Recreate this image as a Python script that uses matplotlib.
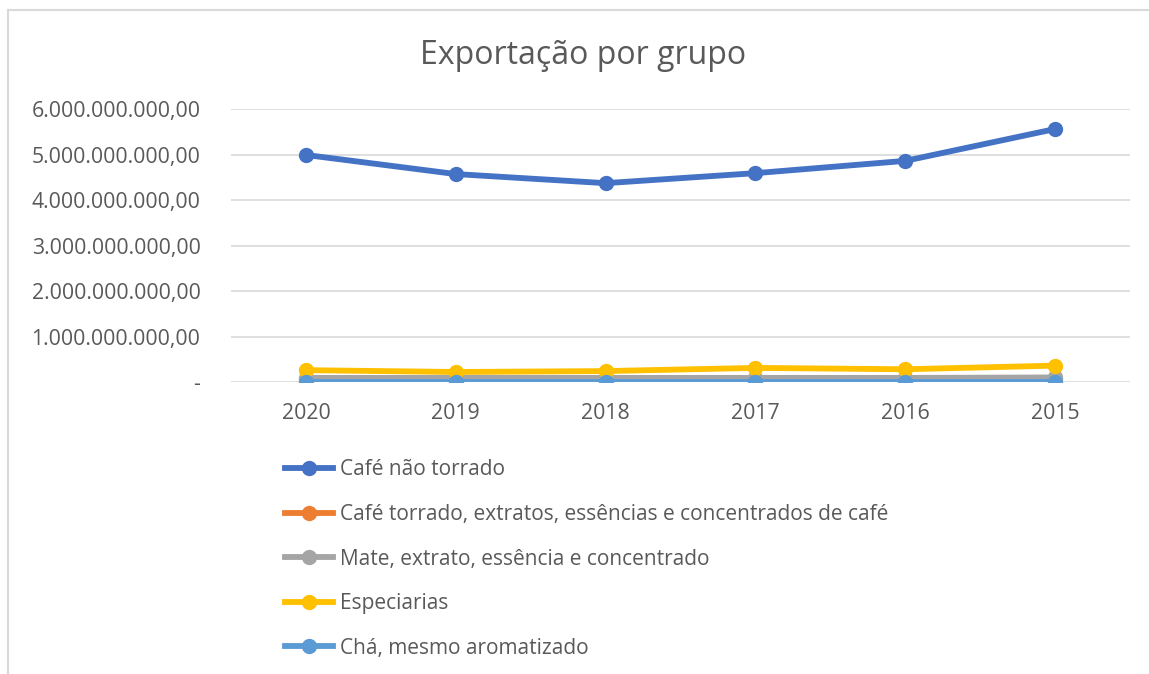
import matplotlib
matplotlib.use("Agg")
import matplotlib.pyplot as plt
from matplotlib.ticker import FuncFormatter
from matplotlib.lines import Line2D

years = ["2020", "2019", "2018", "2017", "2016", "2015"]
cafe_nao_torrado = [4.99e9, 4.57e9, 4.37e9, 4.59e9, 4.86e9, 5.56e9]
cafe_torrado = [0.05e9, 0.05e9, 0.05e9, 0.05e9, 0.05e9, 0.06e9]
mate = [0.09e9, 0.09e9, 0.09e9, 0.09e9, 0.09e9, 0.10e9]
especiarias = [0.26e9, 0.22e9, 0.24e9, 0.31e9, 0.28e9, 0.36e9]
cha = [0.002e9, 0.002e9, 0.002e9, 0.002e9, 0.002e9, 0.002e9]

series_names = [
    "Café não torrado",
    "Café torrado, extratos, essências e concentrados de café",
    "Mate, extrato, essência e concentrado",
    "Especiarias",
    "Chá, mesmo aromatizado",
]
series_values = [cafe_nao_torrado, cafe_torrado, mate, especiarias, cha]
colors = ["#4472C4", "#ED7D31", "#A5A5A5", "#FFC000", "#5B9BD5"]

plt.rcParams['font.family'] = ['Open Sans', 'DejaVu Sans']
text_color = "#595959"

W, H = 1149, 674
fig = plt.figure(figsize=(W / 100, H / 100), dpi=100)

ax = fig.add_axes([231 / W, 1 - 382 / H, (1130 - 231) / W, (382 - 109) / H])
x = list(range(len(years)))
for name, vals, c in zip(series_names, series_values, colors):
    ax.plot(x, vals, color=c, lw=4.2, marker='o', ms=10, solid_capstyle='round', label=name, zorder=3)

ax.set_xlim(-0.5, len(years) - 0.5)
ax.set_ylim(0, 6e9)
ax.set_yticks([i * 1e9 for i in range(7)])


def fmt(v, pos):
    if v == 0:
        return "-"
    s = f"{v:,.2f}"
    return s.replace(",", "X").replace(".", ",").replace("X", ".")


ax.yaxis.set_major_formatter(FuncFormatter(fmt))
ax.set_xticks(x)
ax.set_xticklabels(years)
ax.grid(axis='y', color="#D9D9D9", lw=1.2, zorder=0)
for s in ax.spines.values():
    s.set_visible(False)
ax.tick_params(axis='both', length=0, labelsize=15.3, colors=text_color)
ax.tick_params(axis='y', pad=22)
ax.tick_params(axis='x', pad=15)

fig.text(583 / W, 1 - 56 / H, "Exportação por grupo", ha='center', va='center',
         fontsize=23, color=text_color)

handles = [Line2D([0], [0], color=c, lw=4.2, marker='o', ms=10) for c in colors]
leg = fig.legend(handles, series_names, loc='upper left', bbox_to_anchor=(275 / W, 1 - 449 / H),
                 frameon=False, fontsize=15, labelspacing=1.13, handlelength=2.3,
                 handletextpad=0.3, borderpad=0, labelcolor=text_color)

# chart area border (left and top)
fig.add_artist(Line2D([8 / W, 8 / W], [0, 1 - 10 / H], color="#D9D9D9", lw=1.5, transform=fig.transFigure))
fig.add_artist(Line2D([8 / W, 1], [1 - 10 / H, 1 - 10 / H], color="#D9D9D9", lw=1.5, transform=fig.transFigure))

fig.savefig("out.png", dpi=100)
